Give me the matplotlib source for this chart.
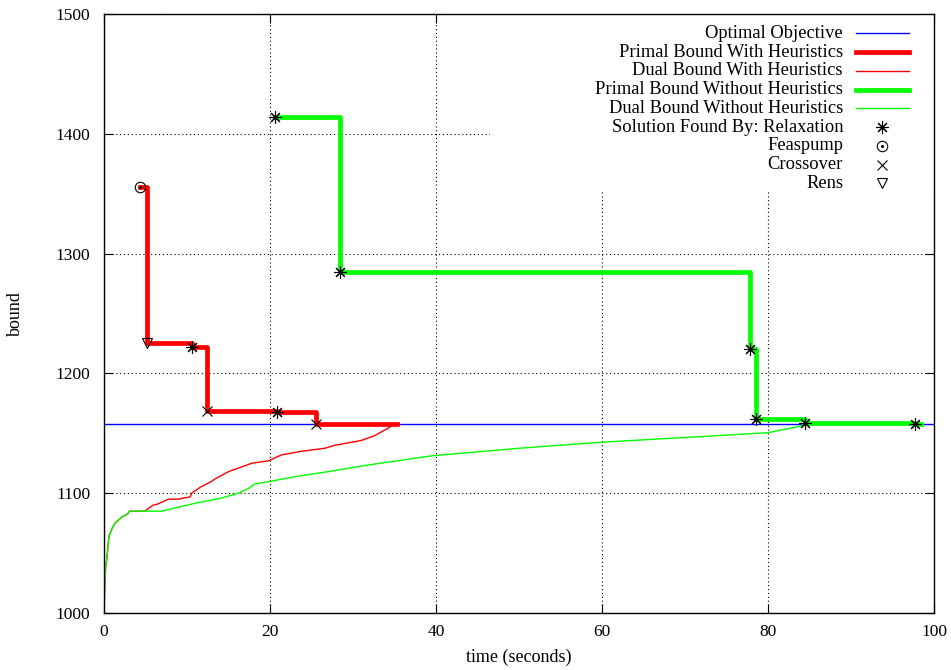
import matplotlib
matplotlib.use("Agg")
import matplotlib.pyplot as plt
from matplotlib.lines import Line2D
from matplotlib.patches import Rectangle

plt.rcParams['font.family'] = ['Liberation Serif', 'DejaVu Serif']

optimal = 1158

# primal bound with heuristics (steps), with the heuristic that found each point
primal_heur_t = [4.3, 5.2, 10.6, 12.4, 20.8, 25.5, 35.3]
primal_heur_v = [1356, 1225, 1222, 1169, 1168, 1158, 1158]
primal_heur_src = ['Feaspump', 'Rens', 'Relaxation', 'Crossover', 'Relaxation', 'Crossover', None]

# primal bound without heuristics
primal_noheur_t = [20.6, 28.4, 77.8, 78.6, 84.5, 97.7, 98.4]
primal_noheur_v = [1414, 1285, 1220, 1162, 1159, 1158, 1158]
primal_noheur_src = ['Relaxation'] * 6 + [None]

# dual bounds
dual_heur_t = [0, 0.1, 0.2, 0.32, 0.6, 1.0, 1.33, 2.13, 2.9, 3.05, 4.9, 5.9, 6.5, 7.75, 8.95,
               10.4, 10.55, 11.6, 13.0, 13.4, 15.0, 16.6, 17.8, 19.8, 21.4, 23.8, 26.6, 27.8,
               31.0, 32.6, 33.9, 34.9, 35.3]
dual_heur_v = [1000, 1025, 1039, 1044, 1064, 1071, 1075, 1080, 1083, 1085, 1085, 1090, 1091,
               1095, 1095, 1097, 1100, 1105, 1110, 1112, 1118, 1122, 1125, 1127, 1132, 1135,
               1137.5, 1140, 1144, 1148, 1153, 1157, 1158]

dual_noheur_t = [0, 0.1, 0.2, 0.32, 0.6, 1.0, 1.33, 2.13, 2.9, 3.05, 6.9, 11.0, 14.0, 16.2,
                 17.4, 18.2, 19.8, 23.0, 27.0, 31.8, 39.5, 50, 59.8, 73.0, 80.0, 83.9, 84.5]
dual_noheur_v = [1000, 1025, 1039, 1044, 1064, 1071, 1075, 1080, 1083, 1085, 1085, 1091.6,
                 1095.7, 1100, 1104, 1107.7, 1109.6, 1113.8, 1118, 1123.5, 1131.2, 1137.5,
                 1142.5, 1147.7, 1150.5, 1156, 1158.8]

x_ticks = [0, 20, 40, 60, 80, 100]
y_ticks = [1000, 1100, 1200, 1300, 1400, 1500]

markers = {
    'Relaxation': dict(marker=(8, 2, 0), markersize=9, markerfacecolor='none'),
    'Feaspump': dict(marker='o', markersize=7.5, markerfacecolor='none'),
    'Crossover': dict(marker='x', markersize=7.5),
    'Rens': dict(marker='v', markersize=7, markerfacecolor='none'),
}

fig = plt.figure(figsize=(9.51, 6.70), dpi=100)
ax = fig.add_axes([104 / 951, 1 - 613 / 670, 830 / 951, 599 / 670])

ax.set_xlim(0, 100)
ax.set_ylim(1000, 1500)
ax.set_xticks(x_ticks)
ax.set_yticks(y_ticks)
ax.tick_params(direction='in', length=6.5, width=0.8, top=True, right=True, labelsize=12.5)
ax.tick_params(axis='y', pad=10)
ax.tick_params(axis='x', pad=8)
for s in ax.spines.values():
    s.set_linewidth(1.0)

ax.set_axisbelow(True)
ax.grid(True, color='black', linestyle=(0, (1, 2.5)), linewidth=0.8)
# key area hides the grid behind it
ax.add_patch(Rectangle((0.465, 0.706), 0.535, 0.294, transform=ax.transAxes,
                       facecolor='white', edgecolor='none', zorder=1))

thin = 1.0
thick = 3.4
ax.axhline(optimal, color='#0000ff', linewidth=thin, zorder=2)
ax.plot(dual_heur_t, dual_heur_v, color='#ff0000', linewidth=thin, zorder=2)
ax.plot(dual_noheur_t, dual_noheur_v, color='#00ff00', linewidth=thin, zorder=2)
ax.plot(primal_heur_t, primal_heur_v, color='#ff0000', linewidth=thick,
        drawstyle='steps-post', zorder=3)
ax.plot(primal_noheur_t, primal_noheur_v, color='#00ff00', linewidth=thick,
        drawstyle='steps-post', zorder=3)

for ts, vs, srcs in [(primal_heur_t, primal_heur_v, primal_heur_src),
                     (primal_noheur_t, primal_noheur_v, primal_noheur_src)]:
    for t, v, src in zip(ts, vs, srcs):
        if src is None:
            continue
        ax.plot([t], [v], linestyle='none', color='black', markeredgecolor='black',
                markeredgewidth=0.8, zorder=4, **markers[src])
        if src == 'Feaspump':
            ax.plot([t], [v], linestyle='none', marker='o', markersize=1.2,
                    color='black', zorder=4)

# key, drawn gnuplot style: text right aligned, sample on the right
key = [
    ('Optimal Objective', dict(color='#0000ff', linewidth=thin)),
    ('Primal Bound With Heuristics', dict(color='#ff0000', linewidth=thick)),
    ('Dual Bound With Heuristics', dict(color='#ff0000', linewidth=thin)),
    ('Primal Bound Without Heuristics', dict(color='#00ff00', linewidth=thick)),
    ('Dual Bound Without Heuristics', dict(color='#00ff00', linewidth=thin)),
    ('Solution Found By: Relaxation', 'Relaxation'),
    ('Feaspump', 'Feaspump'),
    ('Crossover', 'Crossover'),
    ('Rens', 'Rens'),
]
to_ax = lambda px, py: ((px - 104) / 830, (613 - py) / 599)
for i, (label, style) in enumerate(key):
    py = 33.3 + i * 18.75
    tx, ty = to_ax(843, py)
    ax.text(tx, ty, label, transform=ax.transAxes, ha='right', va='center',
            fontsize=13.3, zorder=5)
    if isinstance(style, dict):
        x0, y0 = to_ax(856, py)
        x1, _ = to_ax(909, py)
        ax.add_line(Line2D([x0, x1], [y0, y0], transform=ax.transAxes, zorder=5, **style))
    else:
        mx, my = to_ax(882, py)
        ax.add_line(Line2D([mx], [my], transform=ax.transAxes, linestyle='none',
                           color='black', markeredgecolor='black', markeredgewidth=0.8,
                           zorder=5, **markers[style]))
        if style == 'Feaspump':
            ax.add_line(Line2D([mx], [my], transform=ax.transAxes, linestyle='none',
                               marker='o', markersize=1.2, color='black', zorder=5))

ax.set_xlabel('time (seconds)', fontsize=13)
ax.set_ylabel('bound', fontsize=13)
ax.xaxis.set_label_coords(0.5, -0.0735)
ax.yaxis.set_label_coords(-0.107, 0.5)
ax.xaxis.label.set_va('center')
ax.yaxis.label.set_va('center')

fig.savefig('out.png', dpi=100)
plt.close(fig)
